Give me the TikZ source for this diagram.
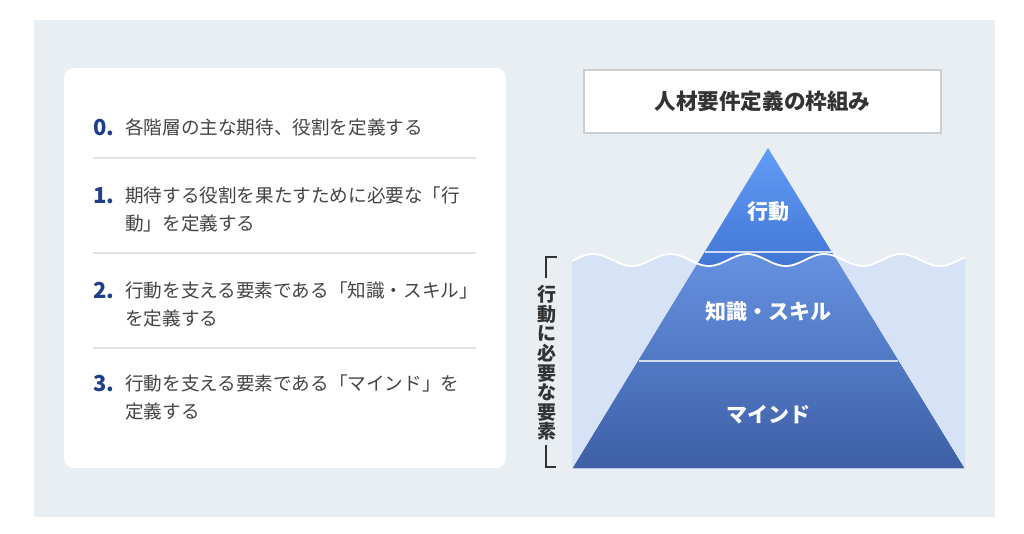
\documentclass[tikz,border=0pt]{standalone}
\usepackage{fontspec}
\setmainfont{Noto Sans CJK JP}
\definecolor{bgblue}{RGB}{233,238,243}
\definecolor{rulegray}{RGB}{224,226,228}
\definecolor{numblue}{RGB}{31,63,140}
\definecolor{txtgray}{RGB}{68,68,68}
\definecolor{headgray}{RGB}{51,51,51}
\definecolor{boxline}{RGB}{204,206,208}
\definecolor{water}{RGB}{214,227,246}
\definecolor{pyrtop}{RGB}{97,157,247}
\definecolor{pyrdeep}{RGB}{14,51,153}
\definecolor{subtop}{RGB}{102,146,226}
\definecolor{subbottom}{RGB}{61,96,167}
\begin{document}
\begin{tikzpicture}[x=1pt, y=-1pt,
  num/.style={anchor=base west, inner sep=0, text=numblue, font=\fontsize{22}{20}\selectfont\bfseries},
  listtext/.style={anchor=base west, inner sep=0, align=left, text=txtgray, font=\fontsize{18.6}{28}\selectfont},
  tierlabel/.style={inner sep=0, text=white, font=\fontsize{21}{21}\selectfont\bfseries},
  headbox/.style={draw=boxline, line width=1.5pt, fill=white, minimum width=357pt, minimum height=63pt, text=headgray, font=\fontsize{21.6}{21}\selectfont\bfseries},
  sidetext/.style={inner sep=0, align=center, text=headgray, font=\fontsize{19}{19.6}\selectfont\bfseries}]
\useasboundingbox (0,0) rectangle (1024,533);
\fill[white] (0,0) rectangle (1024,533);
\fill[bgblue] (34,20) rectangle (995,517);

\fill[white, rounded corners=10pt] (64,68) rectangle (506,468);
\foreach \y in {158,253,348}
  \draw[rulegray, line width=1.2pt] (93,\y) -- (476,\y);

% numbers sit on the first baseline, texts are placed by their last one
\node[num] (n0) at (93,135) {0.};
\node[listtext] (t0) at (125,134) {各階層の主な期待、役割を定義する};
\node[num] (n1) at (93,203) {1.};
\node[listtext] (t1) at (125,230) {期待する役割を果たすために必要な「行\\動」を定義する};
\node[num] (n2) at (93,298) {2.};
\node[listtext] (t2) at (125,325) {行動を支える要素である「知識・スキル」\\を定義する};
\node[num] (n3) at (93,391) {3.};
\node[listtext] (t3) at (125,418) {行動を支える要素である「マインド」を\\定義する};

\node[headbox] (head) at (762.5,101.5) {人材要件定義の枠組み};

\fill[water] (572,468) -- plot[domain=572:965, samples=120] (\x,{260-6*sin((\x-574)*4.675)}) -- (965,468) -- cycle;
\shade[top color=pyrtop, bottom color=pyrdeep] (768,148) -- (573,468) -- (964,468) -- cycle;
\begin{scope}
  \clip (768,148) -- (573,468) -- (964,468) -- cycle;
  \clip (572,468) -- plot[domain=572:965, samples=120] (\x,{260-6*sin((\x-574)*4.675)}) -- (965,468) -- cycle;
  \shade[top color=subtop, bottom color=subbottom] (560,250) rectangle (980,468);
\end{scope}
\draw[white, opacity=0.75, line width=1.3pt] (705,252) -- (832,252);
\draw[white, opacity=0.75, line width=1.3pt] (639,361) -- (898,361);
\draw[white, line width=1.8pt] plot[domain=572:965, samples=120] (\x,{260-6*sin((\x-574)*4.675)});

\node[tierlabel] (act) at (768,212) {行動};
\node[tierlabel] (skill) at (768,312) {知識・スキル};
\node[tierlabel] (mind) at (768,415) {マインド};

\node[sidetext] (side) at (547,363) {行\\動\\に\\必\\要\\な\\要\\素};
\draw[headgray, line width=1.3pt] (557,257) -- (546,257) -- (546,278);
\draw[headgray, line width=1.3pt] (546,445) -- (546,467) -- (556,467);
\end{tikzpicture}
\end{document}
